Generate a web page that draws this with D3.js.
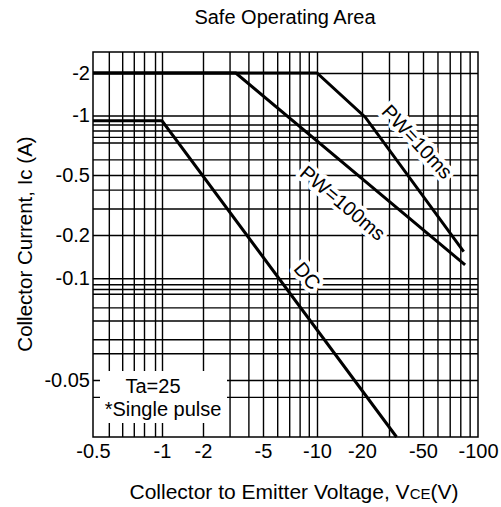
<!DOCTYPE html>
<html>
<head>
<meta charset="utf-8">
<script src="https://cdn.jsdelivr.net/npm/d3@7"></script>
<style>
  body { margin: 0; background: #fff; }
  text { font-family: "Liberation Sans", Arial, sans-serif; fill: #000; }
</style>
</head>
<body>
<script>
// Tick labels (absolute values, drawn with a minus sign)
const xTicks = [0.5, 1, 2, 5, 10, 20, 50, 100];
const yTicks = [2, 1, 0.5, 0.2, 0.1, 0.05];

// Grid lines as drawn on the datasheet
const xGrid = [0.6, 0.7, 0.8, 0.9, 0.96, 1, 2, 3, 4, 5, 6, 7, 8, 9, 10,
               20, 30, 40, 50, 60, 70, 80, 90];
const yGrid = [2, 1, 0.9, 0.84, 0.78, 0.73, 0.6, 0.5, 0.4, 0.3, 0.2,
               0.1, 0.096, 0.093, 0.09, 0.082, 0.075, 0.066, 0.06, 0.05, 0.043];

// SOA curves [|VCE|, |IC|]
const curveDC    = [[0.5, 0.94], [1, 0.94], [33.6, 0.03]];
const curve100ms = [[0.5, 2], [3.3, 2], [85, 0.124]];
const curve10ms  = [[0.5, 2], [10, 2], [21, 0.98], [83.5, 0.153]];

// curve labels [|VCE|, |IC|, text, angle]
const curveLabels = [
  [45.9, 0.737, 'PW=10ms', 47],
  [14.9, 0.326, 'PW=100ms', 40],
  [8.85, 0.104, 'DC', 50]
];

const W = 501, H = 507;
const margin = { top: 52, left: 93 };
const width = 385, height = 385;

const svg = d3.select('body').append('svg')
  .attr('width', W)
  .attr('height', H);

const g = svg.append('g')
  .attr('transform', `translate(${margin.left},${margin.top})`);

// the paper grid is not a clean log grid, so the scales are piecewise log
const x = d3.scaleLog()
  .domain([0.5, 0.9, 1, 2, 5, 10, 20, 50, 100])
  .range([0, 51, 69, 110, 170, 224, 269, 330, width]);

const y = d3.scaleLog()
  .domain([2.8, 2, 1, 0.5, 0.2, 0.1, 0.05, 0.03])
  .range([0, 21, 63.5, 123, 183, 226.3, 328, height]);

// grid
g.append('g')
  .attr('transform', `translate(0,${height})`)
  .call(d3.axisBottom(x).tickValues(xGrid).tickSize(-height).tickFormat(''))
  .call(s => s.select('.domain').remove())
  .call(s => s.selectAll('line').attr('stroke', '#000').attr('stroke-width', 1.4));

g.append('g')
  .call(d3.axisLeft(y).tickValues(yGrid).tickSize(-width).tickFormat(''))
  .call(s => s.select('.domain').remove())
  .call(s => s.selectAll('line').attr('stroke', '#000').attr('stroke-width', 1.4));

// frame
g.append('rect')
  .attr('width', width)
  .attr('height', height)
  .attr('fill', 'none')
  .attr('stroke', '#000')
  .attr('stroke-width', 1.5);

// tick labels
g.append('g')
  .attr('transform', `translate(0,${height})`)
  .call(d3.axisBottom(x).tickValues(xTicks).tickSize(0).tickPadding(7)
    .tickFormat(d => '-' + d))
  .call(s => s.select('.domain').remove())
  .call(s => s.selectAll('text').style('font-size', '20px'));

g.append('g')
  .call(d3.axisLeft(y).tickValues(yTicks).tickSize(0).tickPadding(3)
    .tickFormat(d => '-' + d))
  .call(s => s.select('.domain').remove())
  .call(s => s.selectAll('text').style('font-size', '20px'));

// legend box, covers the grid
g.append('rect')
  .attr('x', 7)
  .attr('y', 319)
  .attr('width', 127)
  .attr('height', 52)
  .attr('fill', '#fff');

g.append('text')
  .attr('x', 60)
  .attr('y', 341)
  .attr('text-anchor', 'middle')
  .style('font-size', '20px')
  .text('Ta=25');

g.append('text')
  .attr('x', 70)
  .attr('y', 364)
  .attr('text-anchor', 'middle')
  .style('font-size', '20px')
  .text('*Single pulse');

// curves
const line = d3.line()
  .x(d => x(d[0]))
  .y(d => y(d[1]));

[curveDC, curve100ms, curve10ms].forEach(c => {
  g.append('path')
    .datum(c)
    .attr('d', line)
    .attr('fill', 'none')
    .attr('stroke', '#000')
    .attr('stroke-width', 3)
    .attr('stroke-linejoin', 'miter');
});

// curve labels with a white halo
g.selectAll('.clabel')
  .data(curveLabels)
  .enter()
  .append('text')
  .attr('class', 'clabel')
  .attr('transform', d => `translate(${x(d[0])},${y(d[1])}) rotate(${d[3]})`)
  .attr('text-anchor', 'middle')
  .attr('dy', '0.35em')
  .style('font-size', '20px')
  .style('paint-order', 'stroke')
  .style('stroke', '#fff')
  .style('stroke-width', '8px')
  .style('stroke-linejoin', 'round')
  .text(d => d[2]);

// titles
svg.append('text')
  .attr('x', 285)
  .attr('y', 24)
  .attr('text-anchor', 'middle')
  .style('font-size', '20px')
  .text('Safe Operating Area');

const xt = svg.append('text')
  .attr('x', 294)
  .attr('y', 499)
  .attr('text-anchor', 'middle')
  .style('font-size', '21px');
xt.append('tspan').text('Collector to Emitter Voltage, V');
xt.append('tspan').style('font-size', '15px').text('CE');
xt.append('tspan').text('(V)');

svg.append('text')
  .attr('transform', 'translate(32,244) rotate(-90)')
  .attr('text-anchor', 'middle')
  .style('font-size', '20.5px')
  .text('Collector Current, Ic (A)');
</script>
</body>
</html>
